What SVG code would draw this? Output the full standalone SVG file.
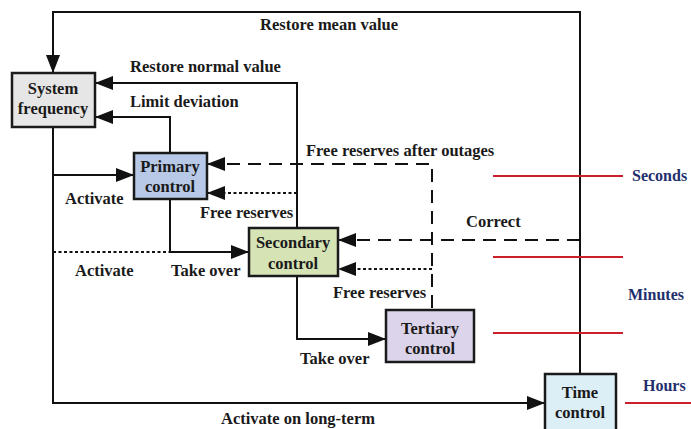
<svg xmlns="http://www.w3.org/2000/svg" width="691" height="429" viewBox="0 0 691 429">
<style>
text{font-family:"Liberation Serif","Times New Roman",serif;font-weight:bold;font-size:16.5px;fill:#1a1a1a}
.c{text-anchor:middle}
.node{stroke:#1a1a1a;stroke-width:2.5}
.ln{fill:none;stroke:#111;stroke-width:2}
.dash{stroke-dasharray:13 8}
.dot{stroke-dasharray:3 2.5}
.red{stroke:#cc1f2a;stroke-width:2;fill:none}
.time{fill:#1f2f6e;font-size:16px}
</style>
<defs>
<marker id="ah" markerUnits="userSpaceOnUse" markerWidth="18" markerHeight="14" refX="18" refY="7" orient="auto">
<path d="M0,0 L18,7 L0,14 z" fill="#111"/>
</marker>
</defs>
<rect width="691" height="429" fill="#fff"/>
<g id="connectors">
<path class="ln" d="M580,374 V12 H53 V73" marker-end="url(#ah)"/>
<path class="ln" d="M297,228 V83 H95" marker-end="url(#ah)"/>
<path class="ln" d="M170,153 V117 H95" marker-end="url(#ah)"/>
<path class="ln" d="M53,127 V403 H545" marker-end="url(#ah)"/>
<path class="ln" d="M53,175 H134" marker-end="url(#ah)"/>
<path class="ln dot" d="M53,252 H170"/>
<path class="ln" d="M170,199 V252 H249" marker-end="url(#ah)"/>
<path class="ln dot" d="M297,193 H207" marker-end="url(#ah)"/>
<path class="ln dash" d="M432,308 V164 H207" marker-end="url(#ah)"/>
<path class="ln dash" d="M580,240 H338" marker-end="url(#ah)"/>
<path class="ln dot" d="M432,269 H338" marker-end="url(#ah)"/>
<path class="ln" d="M297,276 V339 H386" marker-end="url(#ah)"/>
<path class="red" d="M493,176 H623 M493,257 H623 M493,333 H623 M625,403 H691"/>
</g>
<g id="system-frequency">
<rect class="node" x="12" y="73" width="83" height="54" fill="#e6e6e6"/>
<text class="c" x="53" y="94">System</text>
<text class="c" x="53" y="114">frequency</text>
</g>
<g id="primary-control">
<rect class="node" x="134" y="153" width="73" height="46" fill="#b7c9e6"/>
<text class="c" x="170" y="172">Primary</text>
<text class="c" x="170" y="192">control</text>
</g>
<g id="secondary-control">
<rect class="node" x="249" y="228" width="89" height="48" fill="#d5e3b5"/>
<text class="c" x="293" y="248">Secondary</text>
<text class="c" x="293" y="269">control</text>
</g>
<g id="tertiary-control">
<rect class="node" x="386" y="310" width="88" height="52" fill="#dcd4ea"/>
<text class="c" x="430" y="334">Tertiary</text>
<text class="c" x="430" y="354">control</text>
</g>
<g id="time-control">
<rect class="node" x="545" y="374" width="71" height="70" fill="#dceff6"/>
<text class="c" x="580" y="398">Time</text>
<text class="c" x="580" y="418">control</text>
</g>
<g id="labels">
<text x="260" y="30">Restore mean value</text>
<text x="130" y="72">Restore normal value</text>
<text x="130" y="107">Limit deviation</text>
<text x="306" y="156">Free reserves after outages</text>
<text x="65" y="204">Activate</text>
<text x="200" y="218">Free reserves</text>
<text x="466" y="227">Correct</text>
<text x="75" y="276">Activate</text>
<text x="171" y="276">Take over</text>
<text x="333" y="298">Free reserves</text>
<text x="300" y="364">Take over</text>
<text x="221" y="424">Activate on long-term</text>
<text class="time" x="632" y="181">Seconds</text>
<text class="time" x="628" y="300">Minutes</text>
<text class="time" x="643" y="391">Hours</text>
</g>
</svg>
